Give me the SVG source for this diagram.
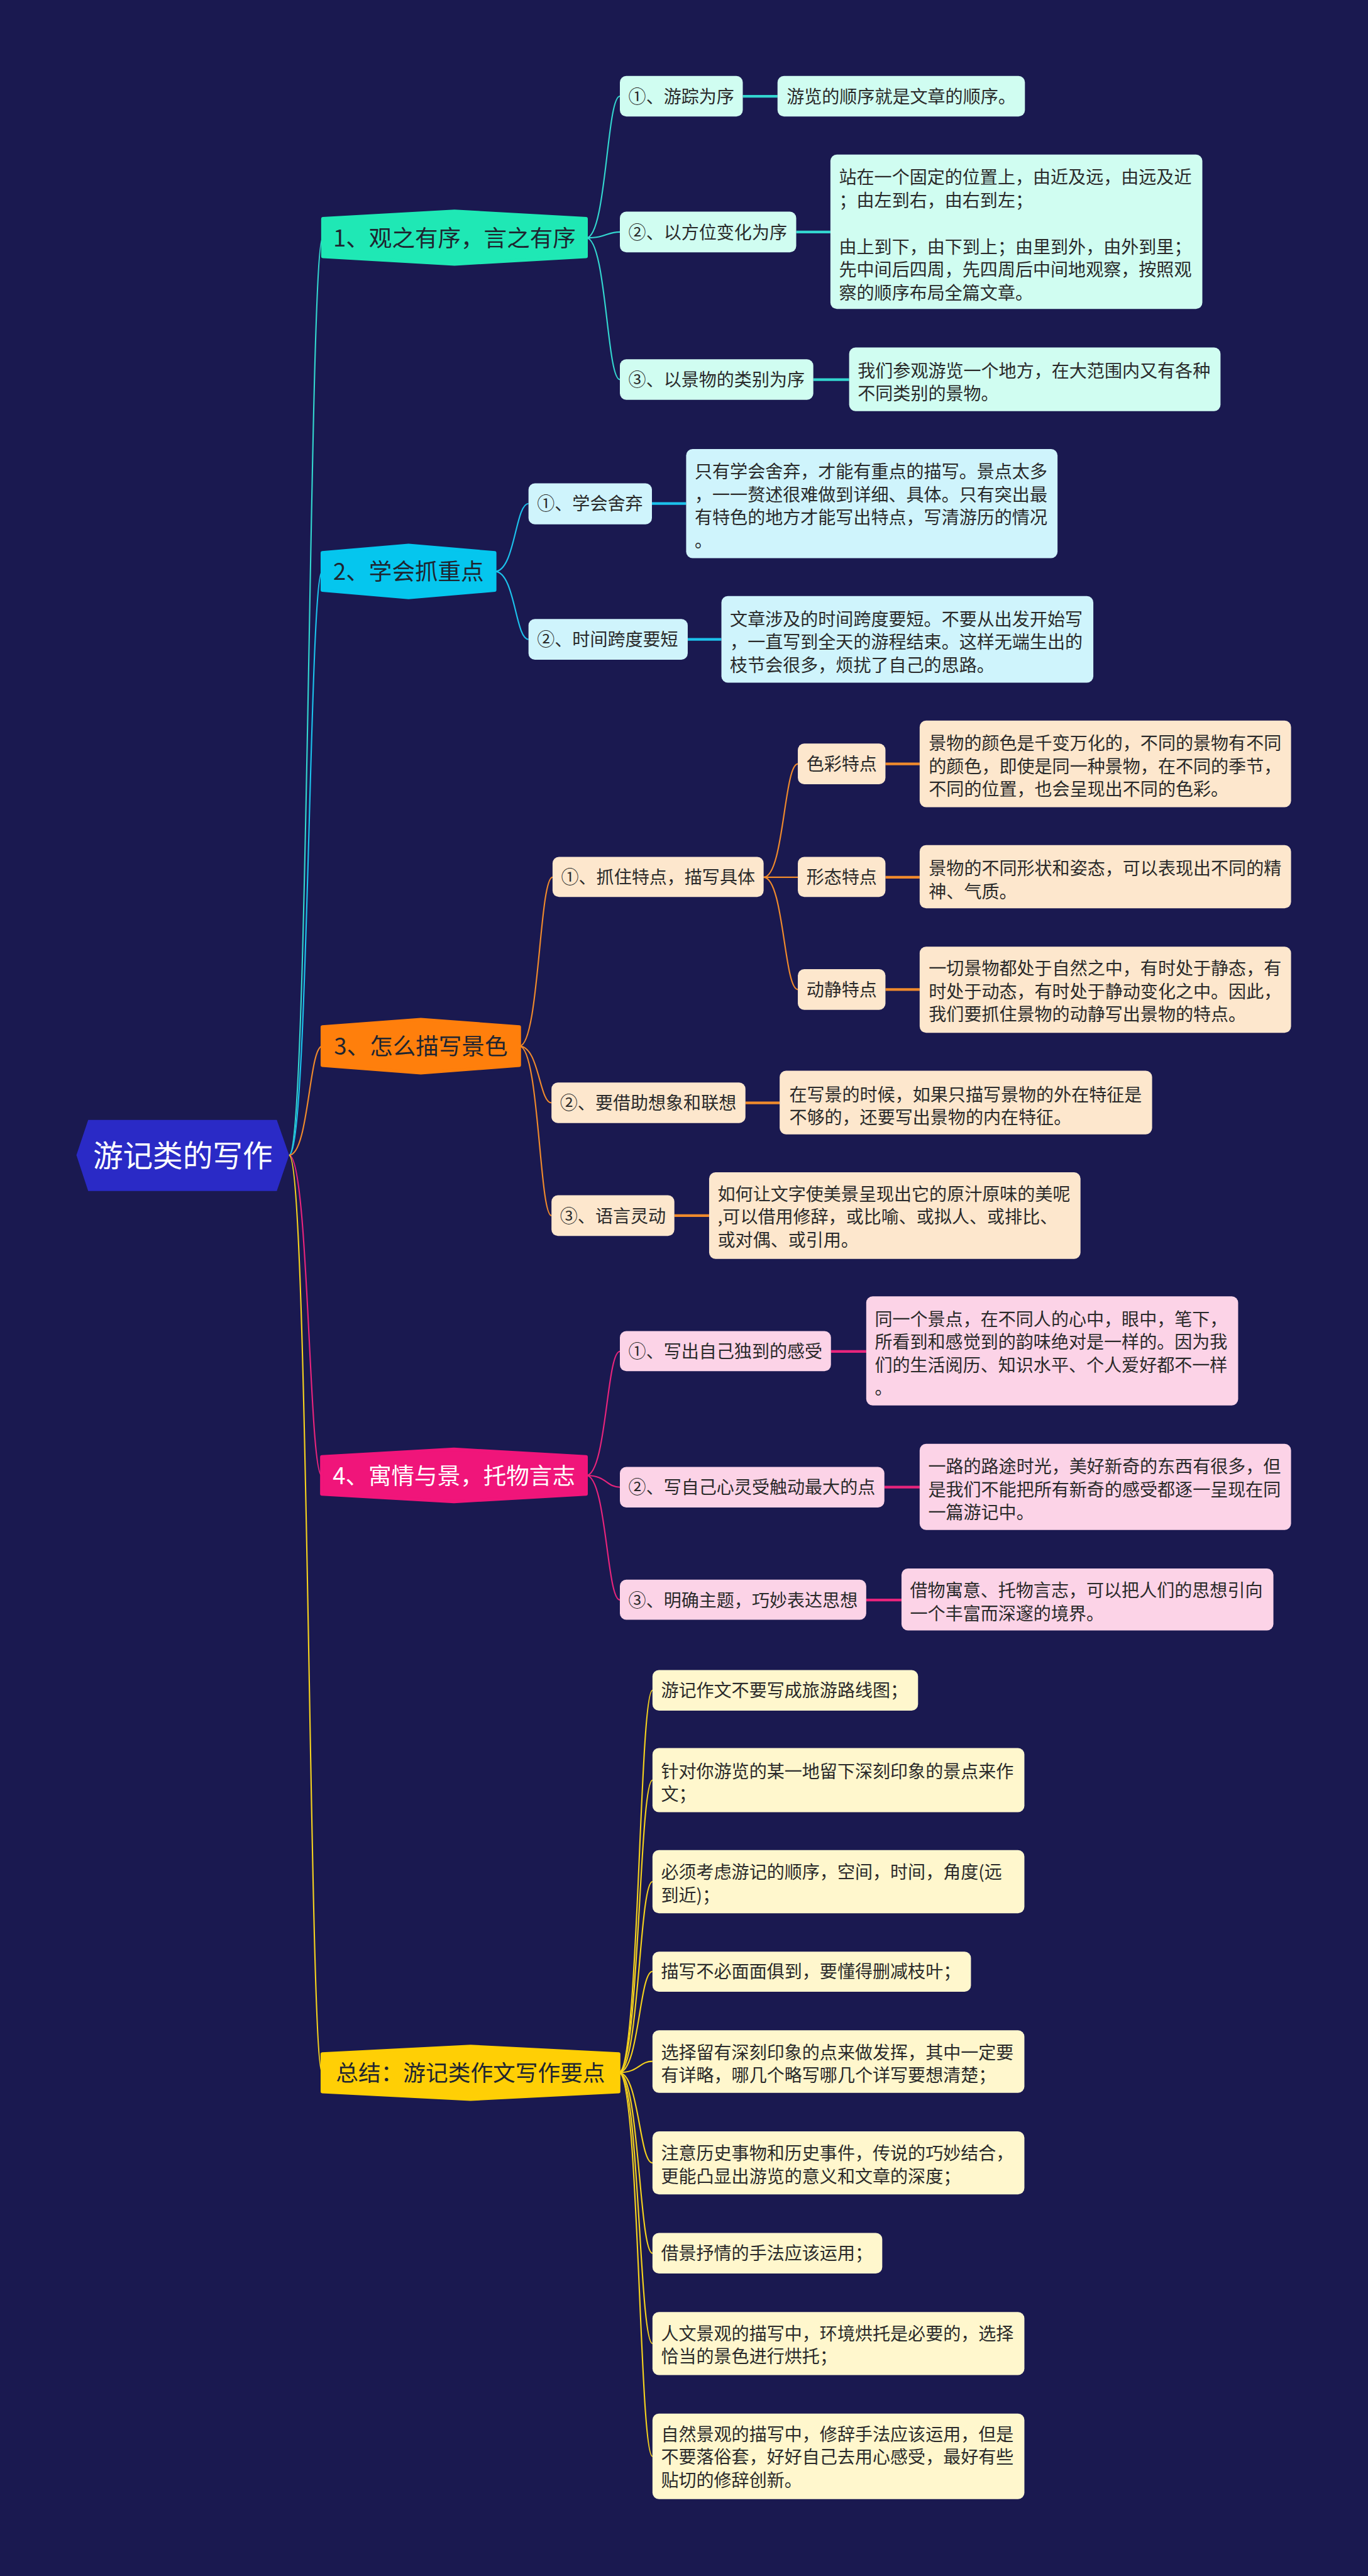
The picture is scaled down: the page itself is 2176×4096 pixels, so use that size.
<svg xmlns="http://www.w3.org/2000/svg" width="2176" height="4096" viewBox="0 0 2176 4096">
<style>
text{font-family:"Noto Sans CJK SC","Noto Sans",sans-serif;}
.t{font-size:33px;fill:#2a2a2a;}
.b{font-size:43px;fill:#1e2530;text-anchor:middle;}
.bw{font-size:43px;fill:#ffffff;text-anchor:middle;}
.r{font-size:56px;fill:#ffffff;text-anchor:middle;}
.c{fill:none;}
.k1{stroke:#33d6cf;}
.k2{stroke:#1cc2ec;}
.k3{stroke:#f08a2c;}
.k4{stroke:#e8247c;}
.k5{stroke:#f5d21e;}
.s1{fill:#d0fdf1;}
.s2{fill:#cff4fc;}
.s3{fill:#fde7cd;}
.s4{fill:#fcd3e7;}
.s5{fill:#fff7cd;}
.m{stroke-width:2.5;}
.l{stroke-width:5;}
</style>
<rect x="0" y="0" width="2176" height="4096" fill="#1a1950"/>
<g transform="scale(0.85)">
<g id="connectors" class="c">
<path class="k1 m" d="M541 2161 C578 2161 578 445 604 445"/>
<path class="k2 m" d="M541 2161 C578 2161 578 1069 603 1069"/>
<path class="k3 m" d="M541 2161 C578 2161 578 1957 603 1957"/>
<path class="k4 m" d="M541 2161 C578 2161 578 2760 602 2760"/>
<path class="k5 m" d="M541 2161 C578 2161 578 3877 603 3877"/>
<path class="k1 m" d="M1097 445 C1135 445 1135 180 1160 180"/>
<path class="k1 m" d="M1097 445 C1135 445 1135 434 1160 434"/>
<path class="k1 m" d="M1097 445 C1135 445 1135 710 1160 710"/>
<path class="k1 l" d="M1390 180 H1455 M1490 434 H1554 M1522 710 H1589"/>
<path class="k2 m" d="M926 1069 C964 1069 964 942 989 942"/>
<path class="k2 m" d="M926 1069 C964 1069 964 1196 989 1196"/>
<path class="k2 l" d="M1220 942 H1284 M1287 1196 H1350"/>
<path class="k3 m" d="M972 1957 C1009 1957 1009 1641 1034 1641"/>
<path class="k3 m" d="M972 1957 C1009 1957 1009 2063 1032 2063"/>
<path class="k3 m" d="M972 1957 C1009 1957 1009 2274 1032 2274"/>
<path class="k3 m" d="M1429 1641 C1467 1641 1467 1429 1493 1429"/>
<path class="k3 m" d="M1429 1641 C1467 1641 1467 1641 1493 1641"/>
<path class="k3 m" d="M1429 1641 C1467 1641 1467 1851 1493 1851"/>
<path class="k3 l" d="M1657 1429 H1721 M1657 1641 H1721 M1657 1851 H1721 M1395 2063 H1459 M1262 2274 H1327"/>
<path class="k4 m" d="M1097 2760 C1135 2760 1135 2528 1160 2528"/>
<path class="k4 m" d="M1097 2760 C1135 2760 1135 2782 1160 2782"/>
<path class="k4 m" d="M1097 2760 C1135 2760 1135 2993 1160 2993"/>
<path class="k4 l" d="M1555 2528 H1621 M1655 2782 H1721 M1621 2993 H1687"/>
<path class="k5 m" d="M1158 3877 C1196 3877 1196 3162 1221 3162"/>
<path class="k5 m" d="M1158 3877 C1196 3877 1196 3330 1221 3330"/>
<path class="k5 m" d="M1158 3877 C1196 3877 1196 3520 1221 3520"/>
<path class="k5 m" d="M1158 3877 C1196 3877 1196 3688 1221 3688"/>
<path class="k5 m" d="M1158 3877 C1196 3877 1196 3856 1221 3856"/>
<path class="k5 m" d="M1158 3877 C1196 3877 1196 4046 1221 4046"/>
<path class="k5 m" d="M1158 3877 C1196 3877 1196 4215 1221 4215"/>
<path class="k5 m" d="M1158 3877 C1196 3877 1196 4384 1221 4384"/>
<path class="k5 m" d="M1158 3877 C1196 3877 1196 4595 1221 4595"/>
</g>

<g id="root">
<polygon points="143,2161 165,2095 518,2095 541,2161 518,2228 165,2228" fill="#2a2ac6"/>
<text class="r" x="342" y="2182">游记类的写作</text>
</g>

<g id="b1">
<polygon points="604,409 850.5,395 1097,409 1097,480 850.5,494 604,480" fill="#1fe8b5" stroke="#1fe8b5" stroke-width="6" stroke-linejoin="round"/>
<text class="b" x="850.5" y="461">1、观之有序，言之有序</text>
</g>
<g id="b1-1"><rect class="s1" x="1160" y="142" width="230" height="76" rx="12"/><text class="t" x="1176" y="192.5">①、游踪为序</text></g>
<g id="b1-1-t"><rect class="s1" x="1455" y="142" width="463" height="76" rx="12"/><text class="t" x="1472" y="192.5">游览的顺序就是文章的顺序。</text></g>
<g id="b1-2"><rect class="s1" x="1160" y="396" width="330" height="76" rx="12"/><text class="t" x="1176" y="446.5">②、以方位变化为序</text></g>
<g id="b1-2-t"><rect class="s1" x="1554" y="289" width="696" height="289" rx="12"/><text class="t"><tspan x="1570" y="343.5">站在一个固定的位置上，由近及远，由远及近</tspan><tspan x="1570" y="387">；由左到右，由右到左；</tspan><tspan x="1570" y="473.7">由上到下，由下到上；由里到外，由外到里；</tspan><tspan x="1570" y="517">先中间后四周，先四周后中间地观察，按照观</tspan><tspan x="1570" y="560.5">察的顺序布局全篇文章。</tspan></text></g>
<g id="b1-3"><rect class="s1" x="1160" y="672" width="362" height="76" rx="12"/><text class="t" x="1176" y="722.5">③、以景物的类别为序</text></g>
<g id="b1-3-t"><rect class="s1" x="1589" y="650" width="695" height="119" rx="12"/><text class="t"><tspan x="1605" y="705.5">我们参观游览一个地方，在大范围内又有各种</tspan><tspan x="1605" y="748">不同类别的景物。</tspan></text></g>

<g id="b2">
<polygon points="603,1034 764.5,1020 926,1034 926,1104 764.5,1118 603,1104" fill="#05c6ee" stroke="#05c6ee" stroke-width="6" stroke-linejoin="round"/>
<text class="b" x="764.5" y="1085">2、学会抓重点</text>
</g>
<g id="b2-1"><rect class="s2" x="989" y="904" width="231" height="77" rx="12"/><text class="t" x="1005" y="954.5">①、学会舍弃</text></g>
<g id="b2-1-t"><rect class="s2" x="1284" y="840" width="695" height="204" rx="12"/><text class="t"><tspan x="1300" y="894.5">只有学会舍弃，才能有重点的描写。景点太多</tspan><tspan x="1300" y="937.5">，一一赘述很难做到详细、具体。只有突出最</tspan><tspan x="1300" y="980.5">有特色的地方才能写出特点，写清游历的情况</tspan><tspan x="1300" y="1023.5">。</tspan></text></g>
<g id="b2-2"><rect class="s2" x="989" y="1158" width="298" height="76" rx="12"/><text class="t" x="1005" y="1208.5">②、时间跨度要短</text></g>
<g id="b2-2-t"><rect class="s2" x="1350" y="1115" width="696" height="162" rx="12"/><text class="t"><tspan x="1366" y="1170.5">文章涉及的时间跨度要短。不要从出发开始写</tspan><tspan x="1366" y="1213.5">，一直写到全天的游程结束。这样无端生出的</tspan><tspan x="1366" y="1256.5">枝节会很多，烦扰了自己的思路。</tspan></text></g>

<g id="b3">
<polygon points="603,1921 787.5,1907 972,1921 972,1993 787.5,2007 603,1993" fill="#ff7f0c" stroke="#ff7f0c" stroke-width="6" stroke-linejoin="round"/>
<text class="b" x="787.5" y="1973">3、怎么描写景色</text>
</g>
<g id="b3-1"><rect class="s3" x="1034" y="1603" width="395" height="75" rx="12"/><text class="t" x="1050" y="1653.5">①、抓住特点，描写具体</text></g>
<g id="b3-1a"><rect class="s3" x="1493" y="1391" width="164" height="76" rx="12"/><text class="t" x="1509" y="1441.5">色彩特点</text></g>
<g id="b3-1a-t"><rect class="s3" x="1721" y="1348" width="695" height="162" rx="12"/><text class="t"><tspan x="1738" y="1402.5">景物的颜色是千变万化的，不同的景物有不同</tspan><tspan x="1738" y="1445.5">的颜色，即使是同一种景物，在不同的季节，</tspan><tspan x="1738" y="1488.5">不同的位置，也会呈现出不同的色彩。</tspan></text></g>
<g id="b3-1b"><rect class="s3" x="1493" y="1603" width="164" height="75" rx="12"/><text class="t" x="1509" y="1653.5">形态特点</text></g>
<g id="b3-1b-t"><rect class="s3" x="1721" y="1581" width="695" height="118" rx="12"/><text class="t"><tspan x="1738" y="1636.5">景物的不同形状和姿态，可以表现出不同的精</tspan><tspan x="1738" y="1679.5">神、气质。</tspan></text></g>
<g id="b3-1c"><rect class="s3" x="1493" y="1813" width="164" height="76" rx="12"/><text class="t" x="1509" y="1863.5">动静特点</text></g>
<g id="b3-1c-t"><rect class="s3" x="1721" y="1771" width="695" height="161" rx="12"/><text class="t"><tspan x="1738" y="1823.5">一切景物都处于自然之中，有时处于静态，有</tspan><tspan x="1738" y="1866.5">时处于动态，有时处于静动变化之中。因此，</tspan><tspan x="1738" y="1909.5">我们要抓住景物的动静写出景物的特点。</tspan></text></g>
<g id="b3-2"><rect class="s3" x="1032" y="2025" width="363" height="76" rx="12"/><text class="t" x="1048" y="2075.5">②、要借助想象和联想</text></g>
<g id="b3-2-t"><rect class="s3" x="1459" y="2003" width="697" height="119" rx="12"/><text class="t"><tspan x="1477" y="2059.5">在写景的时候，如果只描写景物的外在特征是</tspan><tspan x="1477" y="2102.5">不够的，还要写出景物的内在特征。</tspan></text></g>
<g id="b3-3"><rect class="s3" x="1032" y="2236" width="230" height="76" rx="12"/><text class="t" x="1048" y="2286.5">③、语言灵动</text></g>
<g id="b3-3-t"><rect class="s3" x="1327" y="2193" width="695" height="162" rx="12"/><text class="t"><tspan x="1343" y="2245.5">如何让文字使美景呈现出它的原汁原味的美呢</tspan><tspan x="1343" y="2288.5">,可以借用修辞，或比喻、或拟人、或排比、</tspan><tspan x="1343" y="2331.5">或对偶、或引用。</tspan></text></g>

<g id="b4">
<polygon points="602,2725 849.5,2711 1097,2725 1097,2795 849.5,2809 602,2795" fill="#f0157a" stroke="#f0157a" stroke-width="6" stroke-linejoin="round"/>
<text class="bw" x="849.5" y="2776">4、寓情与景，托物言志</text>
</g>
<g id="b4-1"><rect class="s4" x="1160" y="2490" width="395" height="75" rx="12"/><text class="t" x="1176" y="2540">①、写出自己独到的感受</text></g>
<g id="b4-1-t"><rect class="s4" x="1621" y="2425" width="696" height="204" rx="12"/><text class="t"><tspan x="1637" y="2479.5">同一个景点，在不同人的心中，眼中，笔下，</tspan><tspan x="1637" y="2522.5">所看到和感觉到的韵味绝对是一样的。因为我</tspan><tspan x="1637" y="2565.5">们的生活阅历、知识水平、个人爱好都不一样</tspan><tspan x="1637" y="2608.5">。</tspan></text></g>
<g id="b4-2"><rect class="s4" x="1160" y="2744" width="495" height="76" rx="12"/><text class="t" x="1176" y="2794.5">②、写自己心灵受触动最大的点</text></g>
<g id="b4-2-t"><rect class="s4" x="1721" y="2701" width="695" height="161" rx="12"/><text class="t"><tspan x="1737" y="2755.5">一路的路途时光，美好新奇的东西有很多，但</tspan><tspan x="1737" y="2798.5">是我们不能把所有新奇的感受都逐一呈现在同</tspan><tspan x="1737" y="2841.5">一篇游记中。</tspan></text></g>
<g id="b4-3"><rect class="s4" x="1160" y="2955" width="461" height="75" rx="12"/><text class="t" x="1176" y="3005.5">③、明确主题，巧妙表达思想</text></g>
<g id="b4-3-t"><rect class="s4" x="1687" y="2934" width="696" height="116" rx="12"/><text class="t"><tspan x="1703" y="2987.5">借物寓意、托物言志，可以把人们的思想引向</tspan><tspan x="1703" y="3030.5">一个丰富而深邃的境界。</tspan></text></g>

<g id="b5">
<polygon points="603,3842 880.5,3828 1158,3842 1158,3913 880.5,3927 603,3913" fill="#ffcf05" stroke="#ffcf05" stroke-width="6" stroke-linejoin="round"/>
<text class="b" x="880.5" y="3893" style="font-size:42px">总结：游记类作文写作要点</text>
</g>
<g id="b5-1"><rect class="s5" x="1221" y="3124" width="497" height="76" rx="12"/><text class="t" x="1237" y="3174.5">游记作文不要写成旅游路线图；</text></g>
<g id="b5-2"><rect class="s5" x="1221" y="3270" width="696" height="120" rx="12"/><text class="t"><tspan x="1237" y="3325.5">针对你游览的某一地留下深刻印象的景点来作</tspan><tspan x="1237" y="3368.5">文；</tspan></text></g>
<g id="b5-3"><rect class="s5" x="1221" y="3461" width="696" height="118" rx="12"/><text class="t"><tspan x="1237" y="3514.5">必须考虑游记的顺序，空间，时间，角度(远</tspan><tspan x="1237" y="3557.5">到近)；</tspan></text></g>
<g id="b5-4"><rect class="s5" x="1221" y="3651" width="596" height="75" rx="12"/><text class="t" x="1237" y="3700.5">描写不必面面俱到，要懂得删减枝叶；</text></g>
<g id="b5-5"><rect class="s5" x="1221" y="3798" width="696" height="117" rx="12"/><text class="t"><tspan x="1237" y="3851.5">选择留有深刻印象的点来做发挥，其中一定要</tspan><tspan x="1237" y="3894.5">有详略，哪几个略写哪几个详写要想清楚；</tspan></text></g>
<g id="b5-6"><rect class="s5" x="1221" y="3987" width="696" height="118" rx="12"/><text class="t"><tspan x="1237" y="4040.5">注意历史事物和历史事件，传说的巧妙结合，</tspan><tspan x="1237" y="4083.5">更能凸显出游览的意义和文章的深度；</tspan></text></g>
<g id="b5-7"><rect class="s5" x="1221" y="4177" width="430" height="76" rx="12"/><text class="t" x="1237" y="4227.5">借景抒情的手法应该运用；</text></g>
<g id="b5-8"><rect class="s5" x="1221" y="4325" width="696" height="118" rx="12"/><text class="t"><tspan x="1237" y="4377.5">人文景观的描写中，环境烘托是必要的，选择</tspan><tspan x="1237" y="4420.5">恰当的景色进行烘托；</tspan></text></g>
<g id="b5-9"><rect class="s5" x="1221" y="4515" width="696" height="160" rx="12"/><text class="t"><tspan x="1237" y="4565.5">自然景观的描写中，修辞手法应该运用，但是</tspan><tspan x="1237" y="4608.5">不要落俗套，好好自己去用心感受，最好有些</tspan><tspan x="1237" y="4651.5">贴切的修辞创新。</tspan></text></g>
</g>
</svg>
